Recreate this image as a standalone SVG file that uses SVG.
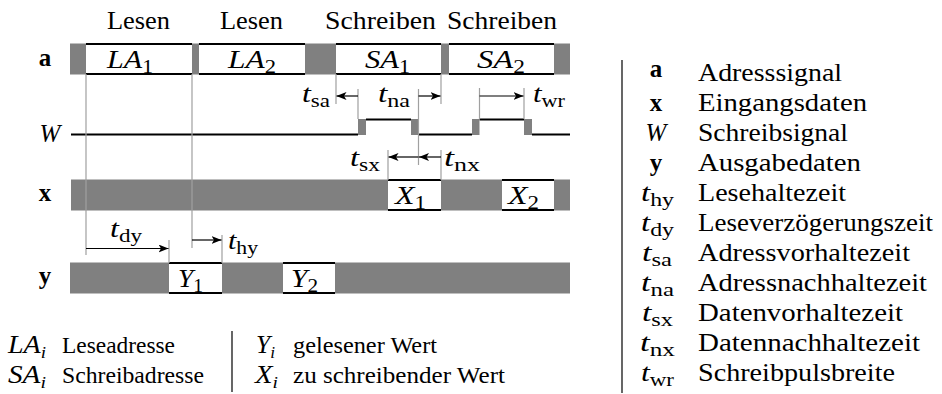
<svg xmlns="http://www.w3.org/2000/svg" width="942" height="394" viewBox="0 0 942 394" font-family="Liberation Serif, serif">
<style>
text{font-size:25px;fill:#000}
.i{font-style:italic}
.b{font-weight:bold}
.s{font-size:18px;font-style:normal}
.si{font-size:17px;font-style:italic}
.leg{font-size:24px}
.bus{fill:#808080}
.box{fill:#fff}
.edge{stroke:#000;stroke-width:2;fill:none}
.guide{stroke:#a0a0a0;stroke-width:1.2;fill:none}
.arr{stroke:#000;stroke-width:1.2;fill:none;marker-end:url(#ah)}
.sep{stroke:#000;stroke-width:1.2}
</style>
<defs>
<marker id="ah" viewBox="0 0 10 8" refX="10" refY="4" markerWidth="10" markerHeight="8" markerUnits="userSpaceOnUse" orient="auto">
<path d="M0,0 L10,4 L0,8 L2.5,4 z" fill="#000"/>
</marker>
</defs>

<g id="phase-labels">
<text x="107" y="29" textLength="63" lengthAdjust="spacingAndGlyphs">Lesen</text>
<text x="220" y="29" textLength="63" lengthAdjust="spacingAndGlyphs">Lesen</text>
<text x="325" y="29" textLength="111" lengthAdjust="spacingAndGlyphs">Schreiben</text>
<text x="447" y="29" textLength="110" lengthAdjust="spacingAndGlyphs">Schreiben</text>
</g>

<g id="signal-a">
<text x="45" y="65.5" text-anchor="middle" class="b">a</text>
<rect class="bus" x="70" y="43.5" width="500" height="31"/>
<rect class="box" x="86" y="44" width="106" height="30"/>
<rect class="box" x="199" y="44" width="106" height="30"/>
<rect class="box" x="336" y="44" width="105" height="30"/>
<rect class="box" x="449" y="44" width="105" height="30"/>
<path class="edge" d="M86,44H192M86,74H192M199,44H305M199,74H305M336,44H441M336,74H441M449,44H554M449,74H554"/>
<text x="107" y="68" class="i" textLength="46" lengthAdjust="spacingAndGlyphs">LA<tspan class="s" dy="5">1</tspan></text>
<text x="228" y="68" class="i" textLength="48" lengthAdjust="spacingAndGlyphs">LA<tspan class="s" dy="5">2</tspan></text>
<text x="365" y="68" class="i" textLength="45" lengthAdjust="spacingAndGlyphs">SA<tspan class="s" dy="5">1</tspan></text>
<text x="477" y="68" class="i" textLength="48" lengthAdjust="spacingAndGlyphs">SA<tspan class="s" dy="5">2</tspan></text>
</g>

<g id="signal-W">
<text x="50" y="142" text-anchor="middle" class="i">W</text>
<path class="edge" d="M71,134.5H358M366,119.5H411M419,134.5H472M479.5,119.5H524M532,134.5H570"/>
<rect class="bus" x="358" y="119" width="8" height="16"/>
<rect class="bus" x="411" y="119" width="8" height="16"/>
<rect class="bus" x="472" y="119" width="7.5" height="16"/>
<rect class="bus" x="524" y="119" width="8" height="16"/>
</g>

<g id="signal-x">
<text x="45" y="201" text-anchor="middle" class="b">x</text>
<rect class="bus" x="71" y="179.5" width="499" height="31"/>
<rect class="box" x="388" y="180" width="53" height="30"/>
<rect class="box" x="502" y="180" width="52" height="30"/>
<path class="edge" d="M388,180H441M388,210H441M502,180H554M502,210H554"/>
<text x="395" y="203.5" class="i" textLength="31" lengthAdjust="spacingAndGlyphs">X<tspan class="s" dy="5">1</tspan></text>
<text x="508" y="203.5" class="i" textLength="31" lengthAdjust="spacingAndGlyphs">X<tspan class="s" dy="5">2</tspan></text>
</g>

<g id="signal-y">
<text x="45" y="284" text-anchor="middle" class="b">y</text>
<rect class="bus" x="70" y="262.5" width="500" height="31"/>
<rect class="box" x="169" y="263" width="53" height="30"/>
<rect class="box" x="283" y="263" width="52" height="30"/>
<path class="edge" d="M169,263H222M169,293H222M283,263H335M283,293H335"/>
<text x="178" y="286.5" class="i" textLength="25" lengthAdjust="spacingAndGlyphs">Y<tspan class="s" dy="5">1</tspan></text>
<text x="291" y="286.5" class="i" textLength="27" lengthAdjust="spacingAndGlyphs">Y<tspan class="s" dy="5">2</tspan></text>
</g>

<g id="connectors">
<path class="guide" d="M86,74V255M192,74V248M336,74V104M358,89V119M441,74V104M418.5,89V165M388,150V180M441,150V180M479.5,88V119M524,88V119M169,240V263M222,235V263"/>
<line class="arr" x1="358" y1="96" x2="336.5" y2="96"/>
<line class="arr" x1="418.5" y1="96" x2="440.5" y2="96"/>
<line class="arr" x1="479.5" y1="96" x2="523.5" y2="96"/>
<line class="arr" x1="418.5" y1="157" x2="388.5" y2="157"/>
<line class="arr" x1="441" y1="157" x2="419" y2="157"/>
<line class="arr" x1="86" y1="248.5" x2="168.5" y2="248.5"/>
<line class="arr" x1="192" y1="240" x2="221.5" y2="240"/>
</g>

<g id="timing-labels">
<text x="302" y="101.5" class="i" textLength="28" lengthAdjust="spacingAndGlyphs">t<tspan class="s" dy="5">sa</tspan></text>
<text x="378" y="101.5" class="i" textLength="32" lengthAdjust="spacingAndGlyphs">t<tspan class="s" dy="5">na</tspan></text>
<text x="533" y="101.5" class="i" textLength="32" lengthAdjust="spacingAndGlyphs">t<tspan class="s" dy="5">wr</tspan></text>
<text x="350" y="166" class="i" textLength="30" lengthAdjust="spacingAndGlyphs">t<tspan class="s" dy="5">sx</tspan></text>
<text x="444" y="166" class="i" textLength="36" lengthAdjust="spacingAndGlyphs">t<tspan class="s" dy="5">nx</tspan></text>
<text x="110" y="237" class="i" textLength="32" lengthAdjust="spacingAndGlyphs">t<tspan class="s" dy="5">dy</tspan></text>
<text x="228" y="249" class="i" textLength="30" lengthAdjust="spacingAndGlyphs">t<tspan class="s" dy="5">hy</tspan></text>
</g>

<g id="legend-bottom">
<text x="8" y="353" class="i" textLength="38" lengthAdjust="spacingAndGlyphs">LA<tspan class="si" dy="5">i</tspan></text>
<text x="62" y="353" class="leg" textLength="113" lengthAdjust="spacingAndGlyphs">Leseadresse</text>
<text x="8" y="383" class="i" textLength="38" lengthAdjust="spacingAndGlyphs">SA<tspan class="si" dy="5">i</tspan></text>
<text x="62" y="383" class="leg" textLength="142" lengthAdjust="spacingAndGlyphs">Schreibadresse</text>
<line class="sep" x1="232" y1="331" x2="232" y2="392"/>
<text x="256" y="353" class="i" textLength="19" lengthAdjust="spacingAndGlyphs">Y<tspan class="si" dy="5">i</tspan></text>
<text x="293" y="353" class="leg" textLength="144" lengthAdjust="spacingAndGlyphs">gelesener Wert</text>
<text x="255" y="383" class="i" textLength="23" lengthAdjust="spacingAndGlyphs">X<tspan class="si" dy="5">i</tspan></text>
<text x="293" y="383" class="leg" textLength="212" lengthAdjust="spacingAndGlyphs">zu schreibender Wert</text>
</g>

<g id="legend-right">
<line class="sep" x1="622" y1="60" x2="622" y2="393"/>
<text x="656" y="77" text-anchor="middle" class="b">a</text>
<text x="698" y="81" textLength="144" lengthAdjust="spacingAndGlyphs">Adresssignal</text>
<text x="656" y="111" text-anchor="middle" class="b">x</text>
<text x="698" y="111" textLength="169" lengthAdjust="spacingAndGlyphs">Eingangsdaten</text>
<text x="656" y="141" text-anchor="middle" class="i">W</text>
<text x="698" y="141" textLength="150" lengthAdjust="spacingAndGlyphs">Schreibsignal</text>
<text x="656" y="171" text-anchor="middle" class="b">y</text>
<text x="698" y="171" textLength="163" lengthAdjust="spacingAndGlyphs">Ausgabedaten</text>
<text x="641" y="201" class="i" textLength="33" lengthAdjust="spacingAndGlyphs">t<tspan class="s" dy="5">hy</tspan></text>
<text x="698" y="201" textLength="148" lengthAdjust="spacingAndGlyphs">Lesehaltezeit</text>
<text x="641" y="231" class="i" textLength="33" lengthAdjust="spacingAndGlyphs">t<tspan class="s" dy="5">dy</tspan></text>
<text x="698" y="231" textLength="235" lengthAdjust="spacingAndGlyphs">Leseverzögerungszeit</text>
<text x="642" y="261" class="i" textLength="30" lengthAdjust="spacingAndGlyphs">t<tspan class="s" dy="5">sa</tspan></text>
<text x="698" y="261" textLength="212" lengthAdjust="spacingAndGlyphs">Adressvorhaltezeit</text>
<text x="641" y="291" class="i" textLength="33" lengthAdjust="spacingAndGlyphs">t<tspan class="s" dy="5">na</tspan></text>
<text x="698" y="291" textLength="229" lengthAdjust="spacingAndGlyphs">Adressnachhaltezeit</text>
<text x="642" y="321" class="i" textLength="31" lengthAdjust="spacingAndGlyphs">t<tspan class="s" dy="5">sx</tspan></text>
<text x="698" y="321" textLength="205" lengthAdjust="spacingAndGlyphs">Datenvorhaltezeit</text>
<text x="640" y="351" class="i" textLength="35" lengthAdjust="spacingAndGlyphs">t<tspan class="s" dy="5">nx</tspan></text>
<text x="698" y="351" textLength="222" lengthAdjust="spacingAndGlyphs">Datennachhaltezeit</text>
<text x="641" y="381" class="i" textLength="33" lengthAdjust="spacingAndGlyphs">t<tspan class="s" dy="5">wr</tspan></text>
<text x="698" y="381" textLength="197" lengthAdjust="spacingAndGlyphs">Schreibpulsbreite</text>
</g>
</svg>
